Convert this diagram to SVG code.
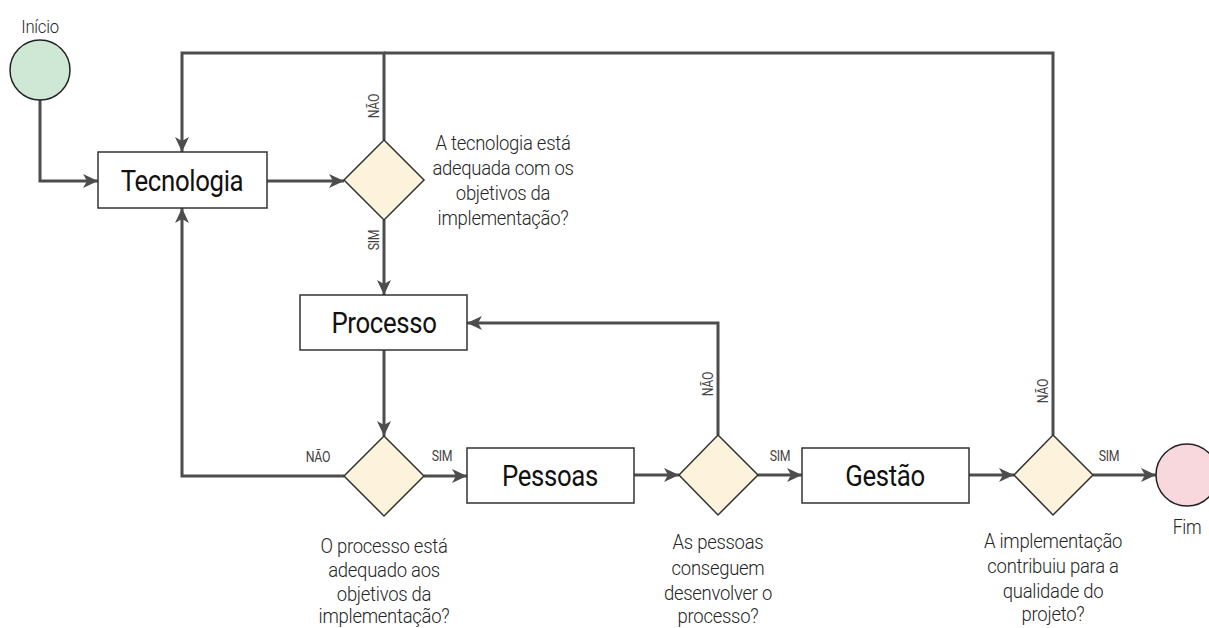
<svg xmlns="http://www.w3.org/2000/svg" width="1209" height="628" viewBox="0 0 1209 628">
  <style>
    .edge { fill: none; stroke: #4d4d4d; stroke-width: 3; }
    .box { fill: #ffffff; stroke: #333333; stroke-width: 1.5; }
    .dec { fill: #fdf3dc; stroke: #333333; stroke-width: 1.5; }
    .title { font-family: Roboto, "Liberation Sans", sans-serif; font-size: 30px; fill: #111111; text-anchor: middle; letter-spacing: -0.4px; }
    .q { font-family: Roboto, "Liberation Sans", sans-serif; font-weight: 300; font-size: 21px; fill: #262626; text-anchor: middle; letter-spacing: -0.3px; }
    .lbl { font-family: Roboto, "Liberation Sans", sans-serif; font-size: 14px; fill: #444444; text-anchor: middle; letter-spacing: -0.3px; }
  </style>
  <defs>
    <marker id="arrow" markerUnits="userSpaceOnUse" markerWidth="16" markerHeight="14" refX="15" refY="7" orient="auto">
      <path d="M0,0 L15,7 L0,14 L4,7 z" fill="#4d4d4d"/>
    </marker>
  </defs>
  <rect width="1209" height="628" fill="#ffffff"/>

  <!-- connectors -->
  <g id="connectors">
    <path class="edge" d="M40,100 V181 H98" marker-end="url(#arrow)"/>
    <path class="edge" d="M267,181 H344" marker-end="url(#arrow)"/>
    <path class="edge" d="M384,140 V53 H182 V152" marker-end="url(#arrow)"/>
    <path class="edge" d="M1053,435 V53 H384"/>
    <path class="edge" d="M384,220 V295" marker-end="url(#arrow)"/>
    <path class="edge" d="M384,350 V436" marker-end="url(#arrow)"/>
    <path class="edge" d="M344,476 H182 V208" marker-end="url(#arrow)"/>
    <path class="edge" d="M424,476 H467" marker-end="url(#arrow)"/>
    <path class="edge" d="M634,475 H679" marker-end="url(#arrow)"/>
    <path class="edge" d="M718,435 V323 H467" marker-end="url(#arrow)"/>
    <path class="edge" d="M758,475 H802" marker-end="url(#arrow)"/>
    <path class="edge" d="M969,475 H1014" marker-end="url(#arrow)"/>
    <path class="edge" d="M1093,475 H1156" marker-end="url(#arrow)"/>

    <text class="lbl" transform="translate(379,106) rotate(-90) scale(0.88,1)">NÃO</text>
    <text class="lbl" transform="translate(379,240) rotate(-90) scale(0.88,1)">SIM</text>
    <text class="lbl" transform="translate(318,462) scale(0.88,1)">NÃO</text>
    <text class="lbl" transform="translate(442,461) scale(0.88,1)">SIM</text>
    <text class="lbl" transform="translate(713,384) rotate(-90) scale(0.88,1)">NÃO</text>
    <text class="lbl" transform="translate(780,461) scale(0.88,1)">SIM</text>
    <text class="lbl" transform="translate(1048,391) rotate(-90) scale(0.88,1)">NÃO</text>
    <text class="lbl" transform="translate(1109,461) scale(0.88,1)">SIM</text>
  </g>

  <!-- start / end -->
  <g id="inicio">
    <circle cx="40" cy="70" r="30" fill="#cfe8d5" stroke="#222222" stroke-width="1.5"/>
    <text class="q" transform="translate(40,33) scale(0.88,1)" style="font-size:19px">Início</text>
  </g>
  <g id="fim">
    <circle cx="1187" cy="475" r="31" fill="#f8d8dd" stroke="#222222" stroke-width="1.5"/>
    <text class="q" transform="translate(1187,534) scale(0.88,1)" style="font-size:20px">Fim</text>
  </g>

  <!-- process boxes -->
  <g id="tecnologia">
    <rect class="box" x="98" y="152" width="169" height="56"/>
    <text class="title" transform="translate(182,191) scale(0.86,1)">Tecnologia</text>
  </g>
  <g id="processo">
    <rect class="box" x="300" y="295" width="167" height="55"/>
    <text class="title" transform="translate(384,333) scale(0.86,1)">Processo</text>
  </g>
  <g id="pessoas">
    <rect class="box" x="467" y="448" width="167" height="55"/>
    <text class="title" transform="translate(550,486) scale(0.86,1)">Pessoas</text>
  </g>
  <g id="gestao">
    <rect class="box" x="802" y="448" width="167" height="55"/>
    <text class="title" transform="translate(885,486) scale(0.86,1)">Gestão</text>
  </g>

  <!-- decisions -->
  <g id="decisao-tecnologia">
    <polygon class="dec" points="384,140 424,180 384,220 344,180"/>
    <g transform="translate(503,0) scale(0.88,1)">
      <text class="q" x="0" y="150">A tecnologia está</text>
      <text class="q" x="0" y="175">adequada com os</text>
      <text class="q" x="0" y="200">objetivos da</text>
      <text class="q" x="0" y="225">implementação?</text>
    </g>
  </g>
  <g id="decisao-processo">
    <polygon class="dec" points="384,436 424,476 384,516 344,476"/>
    <g transform="translate(384,0) scale(0.88,1)">
      <text class="q" x="0" y="553">O processo está</text>
      <text class="q" x="0" y="577">adequado aos</text>
      <text class="q" x="0" y="601">objetivos da</text>
      <text class="q" x="0" y="623">implementação?</text>
    </g>
  </g>
  <g id="decisao-pessoas">
    <polygon class="dec" points="718,435 758,475 718,515 679,475"/>
    <g transform="translate(718,0) scale(0.88,1)">
      <text class="q" x="0" y="549">As pessoas</text>
      <text class="q" x="0" y="575">conseguem</text>
      <text class="q" x="0" y="600">desenvolver o</text>
      <text class="q" x="0" y="623">processo?</text>
    </g>
  </g>
  <g id="decisao-gestao">
    <polygon class="dec" points="1053,435 1093,475 1053,515 1014,475"/>
    <g transform="translate(1053,0) scale(0.88,1)">
      <text class="q" x="0" y="548">A implementação</text>
      <text class="q" x="0" y="573">contribuiu para a</text>
      <text class="q" x="0" y="598">qualidade do</text>
      <text class="q" x="0" y="621">projeto?</text>
    </g>
  </g>
</svg>
